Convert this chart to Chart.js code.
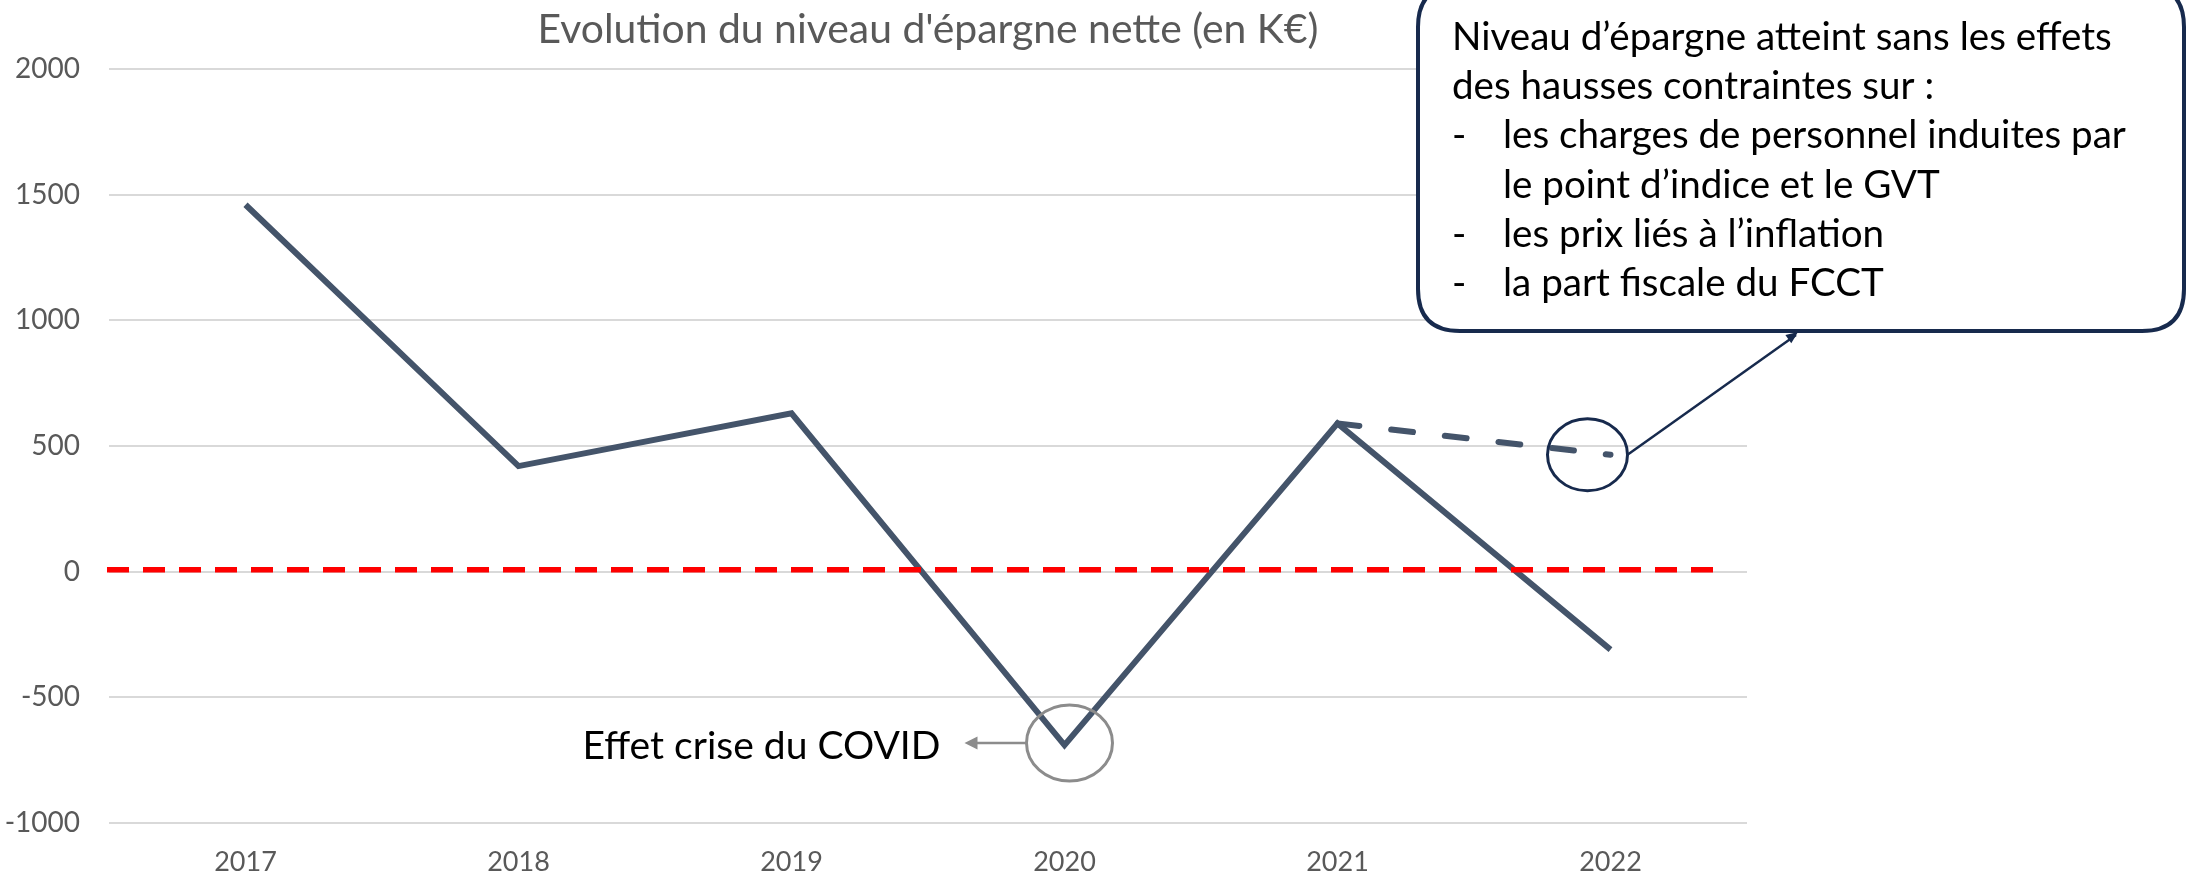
<!DOCTYPE html>
<html>
<head>
<meta charset="utf-8">
<script src="https://cdn.jsdelivr.net/npm/chart.js@4.4.1/dist/chart.umd.min.js"></script>
<style>
  html, body { margin: 0; padding: 0; background: #ffffff; }
  #wrap { width: 2186px; height: 877px; position: relative; }
</style>
</head>
<body>
<div id="wrap"><canvas id="c" width="2186" height="877"></canvas></div>
<script>
// ---- data ----
const categories = ['2017', '2018', '2019', '2020', '2021', '2022'];
const epargneNette = [1460, 420, 630, -690, 590, -310];
const epargneSansHausses = [null, null, null, null, 590, 465];
const yMin = -1000;
const yMax = 2000;
const yStep = 500;
const referenceLevel = 0;
const chartTitle = "Evolution du niveau d'épargne nette (en K€)";
const covidLabel = 'Effet crise du COVID';
const covidIndex = 3;
const calloutIndex = 5;
const calloutLines = [
  { bullet: false, text: 'Niveau d’épargne atteint sans les effets' },
  { bullet: false, text: 'des hausses contraintes sur :' },
  { bullet: true,  text: 'les charges de personnel induites par' },
  { bullet: false, indent: true, text: 'le point d’indice et le GVT' },
  { bullet: true,  text: 'les prix liés à l’inflation' },
  { bullet: true,  text: 'la part fiscale du FCCT' }
];

// ---- styles ----
const LINE_COLOR = '#44546A';
const GRID_COLOR = '#D9D9D9';
const AXIS_TEXT = '#595959';
const NAVY = '#172A4D';
const GREY = '#8C8C8C';
const FONT = 'Lato, "Open Sans", sans-serif';

function fitSize(ctx, text, targetW, family) {
  ctx.save();
  ctx.font = '100px ' + family;
  const w = ctx.measureText(text).width;
  ctx.restore();
  return 100 * targetW / w;
}

function arrowHead(ctx, x, y, angle, len, half, color) {
  ctx.save();
  ctx.fillStyle = color;
  ctx.translate(x, y);
  ctx.rotate(angle);
  ctx.beginPath();
  ctx.moveTo(0, 0);
  ctx.lineTo(-len, -half);
  ctx.lineTo(-len, half);
  ctx.closePath();
  ctx.fill();
  ctx.restore();
}

function roundRect(ctx, x, y, w, h, r) {
  ctx.beginPath();
  ctx.moveTo(x + r, y);
  ctx.lineTo(x + w - r, y);
  ctx.quadraticCurveTo(x + w, y, x + w, y + r);
  ctx.lineTo(x + w, y + h - r);
  ctx.quadraticCurveTo(x + w, y + h, x + w - r, y + h);
  ctx.lineTo(x + r, y + h);
  ctx.quadraticCurveTo(x, y + h, x, y + h - r);
  ctx.lineTo(x, y + r);
  ctx.quadraticCurveTo(x, y, x + r, y);
  ctx.closePath();
}

const refLinePlugin = {
  id: 'refLine',
  afterDatasetsDraw(chart) {
    const { ctx, chartArea, scales } = chart;
    const y = scales.y.getPixelForValue(referenceLevel) - 2;
    ctx.save();
    ctx.strokeStyle = '#FF0000';
    ctx.lineWidth = 5.5;
    ctx.setLineDash([22, 14]);
    ctx.beginPath();
    ctx.moveTo(chartArea.left - 2, y);
    ctx.lineTo(chartArea.right - 29, y);
    ctx.stroke();
    ctx.restore();
  }
};

const annotationsPlugin = {
  id: 'annotations',
  afterDraw(chart) {
    const { ctx, chartArea, scales } = chart;
    ctx.save();

    // Title
    const tSize = fitSize(ctx, chartTitle, 781, FONT);
    ctx.font = tSize.toFixed(2) + 'px ' + FONT;
    ctx.fillStyle = AXIS_TEXT;
    ctx.textAlign = 'center';
    ctx.textBaseline = 'alphabetic';
    ctx.fillText(chartTitle, (chartArea.left + chartArea.right) / 2, 43);

    // COVID circle + arrow + label
    const px = scales.x.getPixelForValue(covidIndex);
    const py = scales.y.getPixelForValue(epargneNette[covidIndex]);
    const cx = px + 5, cy = py - 2;
    ctx.strokeStyle = GREY;
    ctx.lineWidth = 3;
    ctx.beginPath();
    ctx.ellipse(cx, cy, 43, 38, 0, 0, Math.PI * 2);
    ctx.stroke();
    ctx.lineWidth = 2.5;
    ctx.beginPath();
    ctx.moveTo(cx - 43, cy);
    ctx.lineTo(cx - 96, cy);
    ctx.stroke();
    arrowHead(ctx, cx - 105, cy, Math.PI, 13, 6.5, GREY);
    const cSize = fitSize(ctx, covidLabel, 358, FONT);
    ctx.font = cSize.toFixed(2) + 'px ' + FONT;
    ctx.fillStyle = '#000000';
    ctx.textAlign = 'left';
    ctx.fillText(covidLabel, cx - 487, cy + 16);

    // Callout circle around projected 2022 value
    const qx = scales.x.getPixelForValue(calloutIndex) - 23;
    const qy = scales.y.getPixelForValue(epargneSansHausses[calloutIndex]);
    ctx.strokeStyle = NAVY;
    ctx.lineWidth = 3;
    ctx.beginPath();
    ctx.ellipse(qx, qy, 40, 36, 0, 0, Math.PI * 2);
    ctx.stroke();

    // Callout box
    const bx = 1418, by = -15, bw = 766, bh = 346;
    ctx.fillStyle = '#FFFFFF';
    roundRect(ctx, bx, by, bw, bh, 42);
    ctx.fill();
    ctx.strokeStyle = NAVY;
    ctx.lineWidth = 4;
    ctx.stroke();

    // Pointer line from circle to box
    const sx = qx + 40, sy = qy;
    const ex = 1796, ey = by + bh;
    ctx.lineWidth = 2.5;
    ctx.beginPath();
    ctx.moveTo(sx, sy);
    ctx.lineTo(ex, ey + 4);
    ctx.stroke();
    arrowHead(ctx, ex + 2, ey + 1, Math.atan2(ey - sy, ex - sx), 12, 5, NAVY);

    // Callout text
    const lSize = fitSize(ctx, calloutLines[0].text, 660, FONT);
    ctx.font = lSize.toFixed(2) + 'px ' + FONT;
    ctx.fillStyle = '#000000';
    ctx.textAlign = 'left';
    calloutLines.forEach((ln, i) => {
      const yb = 50 + i * 49.2;
      if (ln.bullet) {
        ctx.fillText('-', 1452, yb);
        ctx.fillText(ln.text, 1503, yb);
      } else if (ln.indent) {
        ctx.fillText(ln.text, 1503, yb);
      } else {
        ctx.fillText(ln.text, 1452, yb);
      }
    });

    ctx.restore();
  }
};

const ctx = document.getElementById('c').getContext('2d');
new Chart(ctx, {
  type: 'line',
  data: {
    labels: categories,
    datasets: [
      {
        label: 'Épargne nette',
        data: epargneNette,
        borderColor: LINE_COLOR,
        borderWidth: 6,
        pointRadius: 0,
        tension: 0,
        fill: false,
        borderJoinStyle: 'miter',
        borderCapStyle: 'butt'
      },
      {
        label: 'Sans hausses contraintes',
        data: epargneSansHausses,
        borderColor: LINE_COLOR,
        borderWidth: 6,
        borderDash: [22, 32],
        borderCapStyle: 'round',
        pointRadius: 0,
        tension: 0,
        fill: false,
        spanGaps: false
      }
    ]
  },
  options: {
    responsive: false,
    animation: false,
    devicePixelRatio: 1,
    layout: { padding: { top: 69, right: 439, left: 0, bottom: 0 } },
    plugins: {
      legend: { display: false },
      tooltip: { enabled: false },
      title: { display: false }
    },
    scales: {
      x: {
        type: 'category',
        offset: true,
        grid: { display: false, drawTicks: false },
        border: { display: false },
        ticks: {
          color: AXIS_TEXT,
          font: { family: FONT, size: 27 },
          padding: 23,
          maxRotation: 0
        },
        afterFit(scale) { scale.height = 54; }
      },
      y: {
        min: yMin,
        max: yMax,
        grid: { color: GRID_COLOR, lineWidth: 2, drawTicks: false },
        border: { display: false },
        ticks: {
          stepSize: yStep,
          color: AXIS_TEXT,
          font: { family: FONT, size: 28 },
          padding: 29,
          callback: (v) => String(v)
        },
        afterFit(scale) { scale.width = 109; }
      }
    }
  },
  plugins: [refLinePlugin, annotationsPlugin]
});
</script>
</body>
</html>
